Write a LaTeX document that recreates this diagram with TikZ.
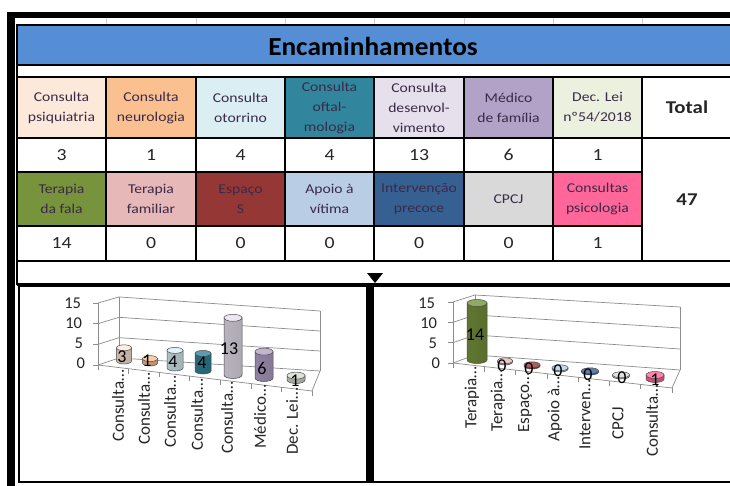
\documentclass[tikz,border=0pt]{standalone}
\usepackage{fontspec}
\setmainfont{Carlito}
\newfontfamily\cf[FakeStretch=1.16]{Carlito}
\newfontfamily\hf[FakeStretch=1.05]{Carlito}
\definecolor{hdr}{HTML}{558ED5}
\definecolor{txt}{HTML}{3A2A48}
\definecolor{ca1}{HTML}{FDE9D9}
\definecolor{ca2}{HTML}{FAC090}
\definecolor{ca3}{HTML}{DBEEF4}
\definecolor{ca4}{HTML}{31859C}
\definecolor{ca5}{HTML}{E6E0EC}
\definecolor{ca6}{HTML}{B3A2C7}
\definecolor{ca7}{HTML}{EBF1DE}
\definecolor{cb1}{HTML}{77933C}
\definecolor{cb2}{HTML}{E6B9B8}
\definecolor{cb3}{HTML}{953735}
\definecolor{cb4}{HTML}{B9CDE5}
\definecolor{cb5}{HTML}{376092}
\definecolor{cb6}{HTML}{D9D9D9}
\definecolor{cb7}{HTML}{FF6699}
\definecolor{gridc}{HTML}{8C8C8C}
\newcommand{\cylbar}[6]{%
  \pgfmathsetmacro{\cyltop}{#2-#3}%
  \path[draw=gray!60!black, line width=0.5pt, left color=#5!80!black, middle color=#5!60!white, right color=#5!75!black]
    (#1-#4,\cyltop) -- (#1-#4,#2) arc[start angle=180, end angle=360, x radius=#4pt, y radius=#6pt] -- (#1+#4,\cyltop) -- cycle;
  \path[draw=gray!60!black, line width=0.5pt, fill=#5!80!white] (#1,\cyltop) ellipse[x radius=#4pt, y radius=#6pt];
}
\begin{document}
\begin{tikzpicture}[x=1pt,y=-1pt,
  every node/.style={inner sep=0pt, outer sep=0pt},
  cell/.style={draw=black, line width=1.6pt, align=center, text=txt, font=\cf\fontsize{13.5}{20}\selectfont},
  val/.style={draw=black, line width=1.6pt, fill=white, align=center, text=black!85, font=\cf\fontsize{17}{20}\selectfont},
  ytick/.style={font=\fontsize{16.5}{16}\selectfont, text=black!85, anchor=east},
  cat/.style={font=\fontsize{17}{17}\selectfont, text=black!85, anchor=east, rotate=90},
  barlbl/.style={font=\fontsize{18}{18}\selectfont, text=black},
  axisln/.style={draw=gridc, line width=0.7pt}]
\useasboundingbox (0,0) rectangle (730,486);
\clip (0,0) rectangle (730,486);
\fill[white] (0,0) rectangle (730,486);

% excel gridlines strip
\foreach \x in {106,196,285,374,464,553,642} \draw[gray!35, line width=0.6pt] (\x,18) -- (\x,25);

% header
\node[draw=black, line width=1.8pt, fill=hdr, minimum width=720pt, minimum height=40pt, anchor=north west] (hdrbox) at (17,25) {};
\node[font=\hf\bfseries\fontsize{26}{26}\selectfont, text=black] (title) at (373,46) {Encaminhamentos};

% row 1
\node[cell, fill=ca1, minimum width=89pt, minimum height=61pt] (a1) at (61.5,107.5) {Consulta\\psiquiatria};
\node[cell, fill=ca2, minimum width=90pt, minimum height=61pt] (a2) at (151,107.5) {Consulta\\neurologia};
\node[cell, fill=ca3, minimum width=89pt, minimum height=61pt] (a3) at (240.5,107.5) {Consulta\\otorrino};
\node[cell, fill=ca4, minimum width=89pt, minimum height=61pt] (a4) at (329.5,107.5) {Consulta\\oftal-\\mologia};
\node[cell, fill=ca5, minimum width=90pt, minimum height=61pt] (a5) at (419,107.5) {Consulta\\desenvol-\\vimento};
\node[cell, fill=ca6, minimum width=89pt, minimum height=61pt] (a6) at (508.5,107.5) {Médico\\de família};
\node[cell, fill=ca7, minimum width=89pt, minimum height=61pt] (a7) at (597.5,107.5) {Dec. Lei\\nº54/2018};
\node[val, minimum width=90pt, minimum height=61pt, font=\cf\bfseries\fontsize{18}{20}\selectfont] (tot) at (687,107.5) {Total};

% row 2
\node[val, minimum width=89pt, minimum height=34pt] (v1) at (61.5,155) {3};
\node[val, minimum width=90pt, minimum height=34pt] (v2) at (151,155) {1};
\node[val, minimum width=89pt, minimum height=34pt] (v3) at (240.5,155) {4};
\node[val, minimum width=89pt, minimum height=34pt] (v4) at (329.5,155) {4};
\node[val, minimum width=90pt, minimum height=34pt] (v5) at (419,155) {13};
\node[val, minimum width=89pt, minimum height=34pt] (v6) at (508.5,155) {6};
\node[val, minimum width=89pt, minimum height=34pt] (v7) at (597.5,155) {1};

% row 3
\node[cell, fill=cb1, minimum width=89pt, minimum height=54pt] (b1) at (61.5,199) {Terapia\\da fala};
\node[cell, fill=cb2, minimum width=90pt, minimum height=54pt] (b2) at (151,199) {Terapia\\familiar};
\node[cell, fill=cb3, minimum width=89pt, minimum height=54pt] (b3) at (240.5,199) {Espaço\\S};
\node[cell, fill=cb4, minimum width=89pt, minimum height=54pt] (b4) at (329.5,199) {Apoio à\\vítima};
\node[cell, fill=cb5, minimum width=90pt, minimum height=54pt] (b5) at (419,199) {Intervenção\\precoce};
\node[cell, fill=cb6, minimum width=89pt, minimum height=54pt] (b6) at (508.5,199) {CPCJ};
\node[cell, fill=cb7, minimum width=89pt, minimum height=54pt] (b7) at (597.5,199) {Consultas\\psicologia};

% row 4
\node[val, minimum width=89pt, minimum height=35pt] (w1) at (61.5,243.5) {14};
\node[val, minimum width=90pt, minimum height=35pt] (w2) at (151,243.5) {0};
\node[val, minimum width=89pt, minimum height=35pt] (w3) at (240.5,243.5) {0};
\node[val, minimum width=89pt, minimum height=35pt] (w4) at (329.5,243.5) {0};
\node[val, minimum width=90pt, minimum height=35pt] (w5) at (419,243.5) {0};
\node[val, minimum width=89pt, minimum height=35pt] (w6) at (508.5,243.5) {0};
\node[val, minimum width=89pt, minimum height=35pt] (w7) at (597.5,243.5) {1};

% total
\node[val, minimum width=90pt, minimum height=123pt, font=\cf\bfseries\fontsize{18}{20}\selectfont] (sum) at (687,199.5) {47};

% table left border and lower rule
\draw[line width=1.6pt] (17,25) -- (17,285);
\draw[line width=3pt] (17,284.5) -- (740,284.5);
\fill[black] (367,273) -- (383,273) -- (375,283) -- cycle;

% outer frame
\fill[black] (7,12) rectangle (740,18);
\fill[black] (7,12) rectangle (15,486);

% chart frames
\draw[line width=2pt] (19,286) rectangle (367,482);
\draw[line width=2pt] (373,286) rectangle (745,482);
\fill[black] (366,284) rectangle (373,483);

% ---------- left chart ----------
\foreach \v in {0,5,10,15} {
  \draw[axisln] ({98},{365-4.13*\v}) -- ({119},{358-4.07*\v}) -- ({320},{371-4*\v});
  \draw[axisln] ({93},{365-4.13*\v}) -- ({98},{365-4.13*\v});
}
\draw[axisln] (98,303) -- (98,365);
\draw[axisln] (119,297) -- (119,358);
\draw[axisln] (320,311) -- (320,371);
\draw[axisln] (98,365) -- (312,391) -- (320,371);
\foreach \i in {0,...,7} \draw[axisln] ({98+30.57*\i},{365+3.714*\i}) -- ({98+30.57*\i},{370+3.714*\i});

\node[ytick] (ly15) at (81,303) {15};
\node[ytick] (ly10) at (82,323) {10};
\node[ytick] (ly5) at (83,343) {5};
\node[ytick] (ly0) at (85,363) {0};

\cylbar{124}{361}{13.2}{7.5}{ca1}{3}
\cylbar{150}{363}{4.4}{7.5}{ca2}{3}
\cylbar{175}{368}{17.6}{8}{ca3}{3}
\cylbar{203}{371}{17.6}{8}{ca4}{3}
\cylbar{233}{375}{57.2}{9}{ca5}{3.5}
\cylbar{264}{378}{26.4}{9}{ca6}{3.5}
\cylbar{296}{380}{4.4}{9}{ca7!80!gray}{3.5}

\node[barlbl] (lb1) at (122,357) {3};
\node[barlbl] (lb2) at (147,361) {1};
\node[barlbl] (lb3) at (173,362) {4};
\node[barlbl] (lb4) at (202,363) {4};
\node[barlbl] (lb5) at (229,349) {13};
\node[barlbl] (lb6) at (262,368) {6};
\node[barlbl] (lb7) at (295,381) {1};

\node[cat] (lc1) at (118,370) {Consulta…};
\node[cat] (lc2) at (144,373) {Consulta…};
\node[cat] (lc3) at (170,376) {Consulta…};
\node[cat] (lc4) at (197,379) {Consulta…};
\node[cat] (lc5) at (227,382) {Consulta…};
\node[cat] (lc6) at (260,385) {Médico…};
\node[cat] (lc7) at (292,388) {Dec. Lei…};

% ---------- right chart ----------
\foreach \v in {0,5,10,15} {
  \draw[axisln] ({453},{363-4.07*\v}) -- ({475},{355-4*\v}) -- ({680},{370-4.2*\v});
  \draw[axisln] ({448},{363-4.07*\v}) -- ({453},{363-4.07*\v});
}
\draw[axisln] (453,302) -- (453,363);
\draw[axisln] (475,295) -- (475,355);
\draw[axisln] (680,307) -- (680,370);
\draw[axisln] (453,363) -- (672,388) -- (680,370);
\foreach \i in {0,...,7} \draw[axisln] ({453+31.29*\i},{363+3.57*\i}) -- ({453+31.29*\i},{368+3.57*\i});

\node[ytick] (ry15) at (435,303) {15};
\node[ytick] (ry10) at (437,323) {10};
\node[ytick] (ry5) at (437,343) {5};
\node[ytick] (ry0) at (440,363) {0};

\cylbar{477}{360}{57}{10}{cb1}{3.5}
\cylbar{505}{362}{1.2}{7.5}{cb2}{3}
\cylbar{532}{366}{1.2}{8}{cb3}{3}
\cylbar{560}{369}{1.2}{8}{cb4}{3}
\cylbar{590}{372}{1.2}{8.5}{cb5}{3}
\cylbar{621}{376}{1.2}{8.5}{cb6}{3}
\cylbar{655}{379}{4}{9}{cb7}{3.5}

\node[barlbl] (rb1) at (475,335) {14};
\node[barlbl] (rb2) at (502,366) {0};
\node[barlbl] (rb3) at (529,369) {0};
\node[barlbl] (rb4) at (558,371) {0};
\node[barlbl] (rb5) at (588,375) {0};
\node[barlbl] (rb6) at (622,378) {0};
\node[barlbl] (rb7) at (655,380) {1};

\node[cat] (rc1) at (472,367) {Terapia…};
\node[cat] (rc2) at (498,370) {Terapia…};
\node[cat] (rc3) at (525,373) {Espaço…};
\node[cat] (rc4) at (555,377) {Apoio à…};
\node[cat] (rc5) at (585,380) {Interven…};
\node[cat] (rc6) at (618,407) {CPCJ};
\node[cat] (rc7) at (652,385) {Consulta…};
\end{tikzpicture}
\end{document}
